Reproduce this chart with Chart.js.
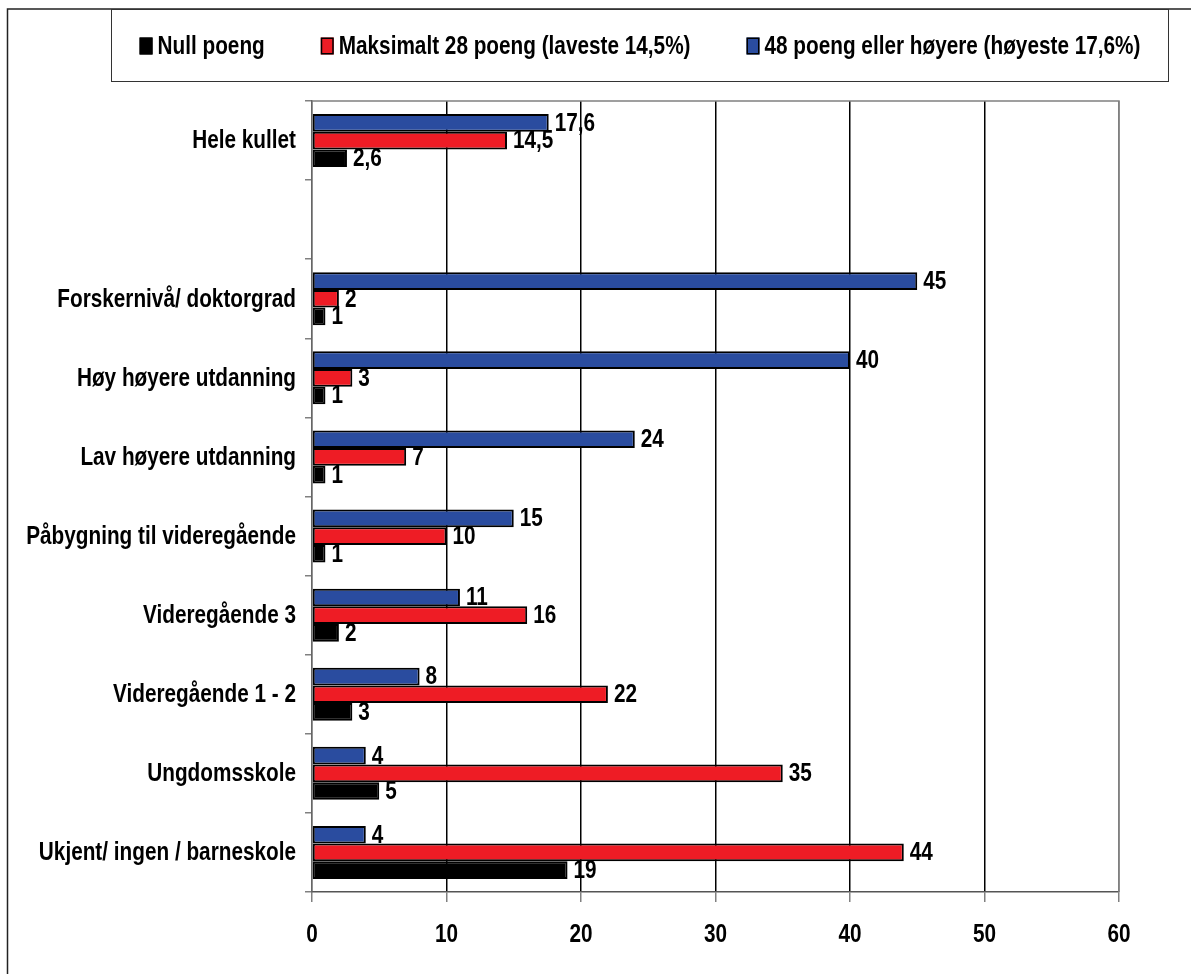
<!DOCTYPE html>
<html>
<head>
<meta charset="utf-8">
<script src="https://cdn.jsdelivr.net/npm/chart.js@4.4.1/dist/chart.umd.min.js"></script>
<style>
  html, body { margin: 0; padding: 0; background: #fff; }
  #wrap { position: relative; width: 1191px; height: 974px; }
</style>
</head>
<body>
<div id="wrap"><canvas id="chart" width="1191" height="974"></canvas></div>
<script>
// Categories (empty slot separates the total from the education levels)
const categories = [
    'Hele kullet',
    '',
    'Forskernivå/ doktorgrad',
    'Høy høyere utdanning',
    'Lav høyere utdanning',
    'Påbygning til videregående',
    'Videregående 3',
    'Videregående 1 - 2',
    'Ungdomsskole',
    'Ukjent/ ingen / barneskole'
];

const seriesNames = ['Null poeng', 'Maksimalt 28 poeng (laveste 14,5%)', '48 poeng eller høyere (høyeste 17,6%)'];
const nullPoeng = [2.6, null, 1, 1, 1, 1, 2, 3, 5, 19];
const maks28 = [14.5, null, 2, 3, 7, 10, 16, 22, 35, 44];
const minst48 = [17.6, null, 45, 40, 24, 15, 11, 8, 4, 4];
const xTicks = [0, 10, 20, 30, 40, 50, 60];

const FONT = "bold 25px 'Liberation Sans', Arial, sans-serif";
const NARROW = 0.83; // squeeze Liberation Sans to narrow proportions
const COLORS = { black: '#000000', red: '#EE1C25', blue: '#2A4C9F' };

function narrowText(ctx, text, x, y, align) {
    ctx.save();
    ctx.translate(x, y);
    ctx.scale(NARROW, 1);
    ctx.font = FONT;
    ctx.textAlign = align;
    ctx.textBaseline = 'middle';
    ctx.fillStyle = '#000';
    ctx.fillText(text, 0, 0);
    ctx.restore();
}

function narrowWidth(ctx, text) {
    ctx.save();
    ctx.font = FONT;
    const w = ctx.measureText(text).width * NARROW;
    ctx.restore();
    return w;
}

// outer frame and the boxed legend (legend order: black, red, blue)
const frameLegend = {
    id: 'frameLegend',
    beforeDraw(chart) {
        const ctx = chart.ctx;
        ctx.save();
        ctx.strokeStyle = '#222';
        ctx.lineWidth = 1.5;
        ctx.beginPath();
        ctx.moveTo(7.5, 980);
        ctx.lineTo(7.5, 9);
        ctx.lineTo(1195, 9);
        ctx.stroke();

        ctx.lineWidth = 1;
        ctx.strokeStyle = '#333';
        ctx.strokeRect(111.5, 9.5, 1057, 72);
        ctx.restore();
    },
    afterDraw(chart) {
        const ctx = chart.ctx;
        const items = [chart.data.datasets[2], chart.data.datasets[1], chart.data.datasets[0]];
        const boxW = 13, boxH = 17, gapBox = 5, gapItem = 56;
        const widths = items.map(d => boxW + gapBox + narrowWidth(ctx, d.label));
        const total = widths.reduce((a, b) => a + b, 0) + gapItem * (items.length - 1);
        let x = 640 - total / 2;
        const cy = 46;
        items.forEach((d, i) => {
            ctx.save();
            ctx.fillStyle = d.backgroundColor;
            ctx.fillRect(x, cy - boxH / 2, boxW, boxH);
            ctx.strokeStyle = '#000';
            ctx.lineWidth = 1.5;
            ctx.strokeRect(x + 0.75, cy - boxH / 2 + 0.75, boxW - 1.5, boxH - 1.5);
            ctx.restore();
            narrowText(ctx, d.label, x + boxW + gapBox, cy + 1, 'left');
            x += widths[i] + gapItem;
        });
    }
};

// value labels right of each bar, comma as decimal separator
const valueLabels = {
    id: 'valueLabels',
    afterDatasetsDraw(chart) {
        const ctx = chart.ctx;
        chart.data.datasets.forEach((ds, i) => {
            chart.getDatasetMeta(i).data.forEach((bar, j) => {
                const v = ds.data[j];
                if (v === null) return;
                narrowText(ctx, String(v).replace('.', ','), bar.x + 6, bar.y + 1, 'left');
            });
        });
    }
};

// axis tick labels in the narrow face, positioned by the scales
const axisLabels = {
    id: 'axisLabels',
    afterDraw(chart) {
        const ctx = chart.ctx;
        const xs = chart.scales.x, ys = chart.scales.y;
        xs.ticks.forEach(t => {
            narrowText(ctx, String(t.value), xs.getPixelForValue(t.value), 935, 'center');
        });
        ys.ticks.forEach((t, i) => {
            const label = categories[t.value];
            if (label) narrowText(ctx, label, ys.left + ys.width - 16, ys.getPixelForTick(i) + 1, 'right');
        });
    }
};

// grey top and right border of the plot area
const plotBorder = {
    id: 'plotBorder',
    afterDraw(chart) {
        const { ctx, chartArea: a } = chart;
        ctx.save();
        ctx.strokeStyle = '#808080';
        ctx.lineWidth = 1.5;
        ctx.beginPath();
        ctx.moveTo(a.left, a.top);
        ctx.lineTo(a.right, a.top);
        ctx.lineTo(a.right, a.bottom);
        ctx.stroke();
        ctx.restore();
    }
};

new Chart(document.getElementById('chart'), {
    type: 'bar',
    data: {
        labels: categories,
        datasets: [
            { label: seriesNames[2], data: minst48, backgroundColor: COLORS.blue },
            { label: seriesNames[1], data: maks28, backgroundColor: COLORS.red },
            { label: seriesNames[0], data: nullPoeng, backgroundColor: COLORS.black }
        ].map(d => Object.assign(d, {
            borderColor: '#000',
            borderWidth: 2,
            borderSkipped: false,
            categoryPercentage: 0.67,
            barPercentage: 1.0
        }))
    },
    options: {
        indexAxis: 'y',
        responsive: false,
        animation: false,
        layout: { padding: { left: 0, right: 72, top: 101, bottom: 0 } },
        plugins: {
            legend: { display: false },
            tooltip: { enabled: false }
        },
        scales: {
            x: {
                min: 0,
                max: 60,
                afterBuildTicks: s => { s.ticks = xTicks.map(v => ({ value: v })); },
                afterFit: s => { s.height = 82; },
                border: { color: '#555', width: 1.5 },
                grid: {
                    color: c => (c.tick && (c.tick.value === 0 || c.tick.value === 60)) ? '#808080' : '#000',
                    lineWidth: 1.5,
                    tickLength: 10,
                    tickColor: '#808080'
                },
                ticks: { display: false }
            },
            y: {
                afterFit: s => { s.width = 312; },
                border: { color: '#666', width: 1.5 },
                grid: {
                    drawOnChartArea: false,
                    tickLength: 7,
                    color: '#808080',
                    lineWidth: 1.5
                },
                ticks: { display: false }
            }
        }
    },
    plugins: [frameLegend, valueLabels, axisLabels, plotBorder]
});
</script>
</body>
</html>
